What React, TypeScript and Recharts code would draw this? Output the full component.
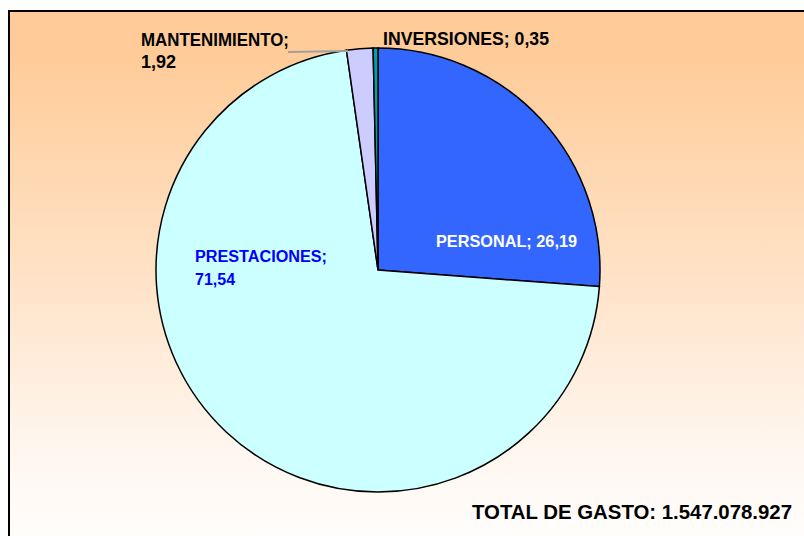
import React from "react";
import { PieChart, Pie, Cell } from "recharts";

const categories = ["PERSONAL", "PRESTACIONES", "MANTENIMIENTO", "INVERSIONES"];
const values = [26.19, 71.54, 1.92, 0.35];
const valueLabels = ["26,19", "71,54", "1,92", "0,35"];
const colors = ["#3366FF", "#CCFFFF", "#CCCCFF", "#00A3A3"];
const totalLabel = "TOTAL DE GASTO: 1.547.078.927";

const data = categories.map((name, i) => ({ name, value: values[i], text: valueLabels[i] }));

const FONT = "'Liberation Sans', Arial, Helvetica, sans-serif";

// label layout relative to pie centre
type LabelCfg = {
  dx: number;
  dy: number;
  lines: (n: string, v: string) => string[];
  color: string;
  size: number;
  widths: (number | undefined)[];
  gap: number;
  leader?: { x1: number; y1: number; x2: number; y2: number };
};
const labelCfg: Record<string, LabelCfg> = {
  PERSONAL: { dx: 58, dy: -23, lines: (n, v) => [`${n}; ${v}`], color: "#FFFFFF", size: 17, widths: [141], gap: 0 },
  PRESTACIONES: { dx: -183, dy: -8, lines: (n, v) => [`${n};`, v], color: "#0000FF", size: 16, widths: [132, undefined], gap: 23 },
  MANTENIMIENTO: {
    dx: -237, dy: -224, lines: (n, v) => [`${n};`, v], color: "#000000", size: 18, widths: [148, undefined], gap: 22,
    leader: { x1: -90, y1: -218, x2: -30, y2: -219 },
  },
  INVERSIONES: { dx: 5, dy: -225, lines: (n, v) => [`${n}; ${v}`], color: "#000000", size: 18, widths: [166], gap: 0 },
};

const renderLabel = (props: any) => {
  const { cx, cy, index } = props;
  const d = data[index];
  const cfg = labelCfg[d.name];
  if (!cfg) return null;
  const lines = cfg.lines(d.name, d.text);
  return (
    <g>
      {cfg.leader && (
        <line
          x1={cx + cfg.leader.x1}
          y1={cy + cfg.leader.y1}
          x2={cx + cfg.leader.x2}
          y2={cy + cfg.leader.y2}
          stroke="#A0A0A0"
          strokeWidth={2}
        />
      )}
      {lines.map((t, i) => (
        <text
          key={i}
          x={cx + cfg.dx}
          y={cy + cfg.dy + i * cfg.gap}
          fill={cfg.color}
          fontSize={cfg.size}
          fontWeight="bold"
          fontFamily={FONT}
          textAnchor="start"
          {...(cfg.widths[i] ? { textLength: cfg.widths[i], lengthAdjust: "spacingAndGlyphs" } : {})}
        >
          {t}
        </text>
      ))}
    </g>
  );
};

export default function App() {
  return (
    <div style={{ position: "absolute", left: 0, top: 0, width: 804, height: 536, overflow: "hidden", background: "#FFFFFF" }}>
      <div
        style={{
          position: "absolute",
          left: 8,
          top: 10,
          width: 840,
          height: 600,
          border: "2px solid #000",
          background: "linear-gradient(to bottom, #FFCC99 0%, #FFCC99 8%, #FFE3C8 45%, #FFF6EE 72%, #FFFFFF 92%)",
        }}
      />
      <div style={{ position: "absolute", left: 0, top: 0 }}>
        <PieChart width={804} height={536} margin={{ top: 0, right: 0, bottom: 0, left: 0 }}>
          <Pie
            data={data}
            dataKey="value"
            nameKey="name"
            cx={378}
            cy={270}
            outerRadius={222}
            startAngle={90}
            endAngle={-270}
            stroke="#000000"
            strokeWidth={1.5}
            label={renderLabel}
            labelLine={false}
            isAnimationActive={false}
          >
            {data.map((d, i) => (
              <Cell key={d.name} fill={colors[i]} />
            ))}
          </Pie>
        </PieChart>
      </div>
      <svg width={804} height={536} style={{ position: "absolute", left: 0, top: 0, pointerEvents: "none" }}>
        <text x={472} y={519} fontSize={20} fontWeight="bold" fontFamily={FONT} fill="#000" textLength={320} lengthAdjust="spacingAndGlyphs">
          {totalLabel}
        </text>
      </svg>
    </div>
  );
}
